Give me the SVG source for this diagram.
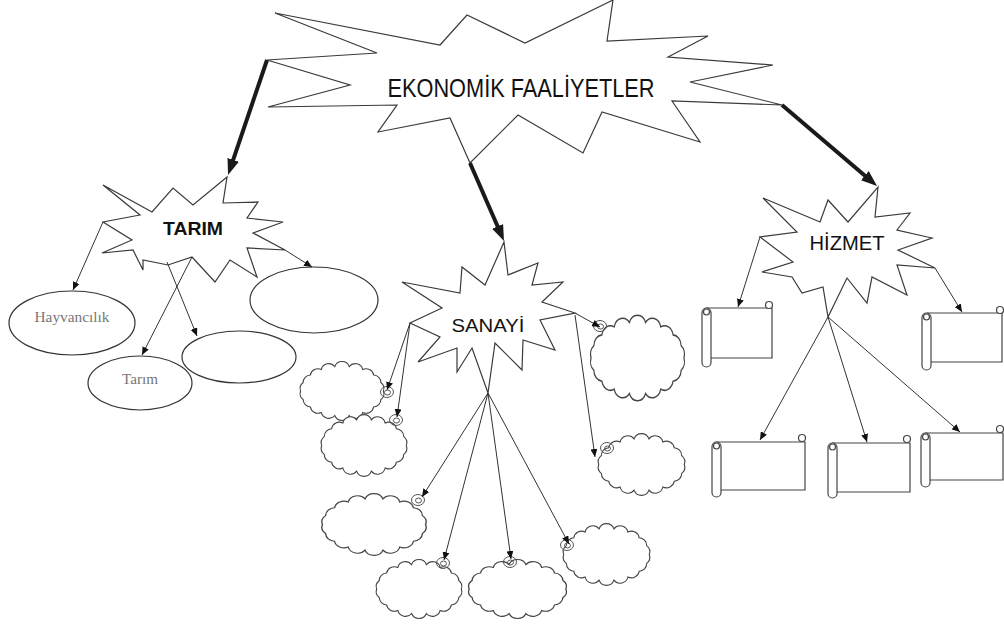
<svg xmlns="http://www.w3.org/2000/svg" xmlns:xlink="http://www.w3.org/1999/xlink" width="1004" height="628" viewBox="0 0 1004 628">
<style>
.burst{fill:#fff;stroke:#3a3a3a;stroke-width:1.2;stroke-linejoin:miter}
.ell{fill:#fff;stroke:#333;stroke-width:1.2}
.cloud{fill:#fff;stroke:#444;stroke-width:1.2;vector-effect:non-scaling-stroke}
.curl{fill:none;stroke:#555;stroke-width:1}
.scroll{fill:#fff;stroke:#444;stroke-width:1.2}
.thin{fill:none;stroke:#333;stroke-width:1;marker-end:url(#ah)}
.thick{fill:none;stroke:#1a1a1a;stroke-width:4;marker-end:url(#ahb)}
.lbl{font-family:"Liberation Sans","DejaVu Sans",sans-serif;fill:#111;text-anchor:middle}
.ser{font-family:"Liberation Serif","DejaVu Serif",serif;fill:#777;text-anchor:middle;font-size:15px}
</style>
<defs>
<marker id="ah" markerUnits="userSpaceOnUse" markerWidth="8" markerHeight="7" refX="8" refY="3.5" orient="auto"><path d="M0,0 L8,3.5 L0,7 z" fill="#111"/></marker>
<marker id="ahb" markerUnits="userSpaceOnUse" markerWidth="16" markerHeight="12" refX="4" refY="6" orient="auto"><path d="M0,0 L16,6 L0,12 z" fill="#1a1a1a"/></marker>
<path id="cl" d="M4,35 A8.5,8.5 0 0 1 6.8,25.4 A8.5,8.5 0 0 1 14.8,17 A8.5,8.5 0 0 1 27,10.8 A8.5,8.5 0 0 1 42,7.4 A8.5,8.5 0 0 1 58,7.4 A8.5,8.5 0 0 1 73,10.8 A8.5,8.5 0 0 1 85.2,17 A8.5,8.5 0 0 1 93.2,25.4 A8.5,8.5 0 0 1 96,35 A8.5,8.5 0 0 1 93.2,44.6 A8.5,8.5 0 0 1 85.2,53 A8.5,8.5 0 0 1 73,59.2 A8.5,8.5 0 0 1 58,62.6 A8.5,8.5 0 0 1 42,62.6 A8.5,8.5 0 0 1 27,59.2 A8.5,8.5 0 0 1 14.8,53 A8.5,8.5 0 0 1 6.8,44.6 A8.5,8.5 0 0 1 4,35 Z"/>
<g id="cu" class="curl"><ellipse cx="0" cy="0" rx="6.5" ry="5.5"/><ellipse cx="0.5" cy="0.5" rx="3" ry="2.5"/></g>
</defs>
<rect width="1004" height="628" fill="#fff"/>

<g id="ekonomik">
<polygon class="burst" points="275,13 440,45 467,15 525,43 613,0 607,41 708,36 668,57 773,65 690,82 782,105 672,101 700,142 602,112 583,153 518,115 470,163 450,118 378,132 397,105 268,107 350,85 267,60 377,53"/>
<text class="lbl" x="521" y="97" font-size="26" textLength="267" lengthAdjust="spacingAndGlyphs">EKONOMİK FAALİYETLER</text>
</g>

<g id="tarim">
<polygon class="burst" points="103,185 152,212 173,188 193,205 227,177 223,203 258,202 247,218 283,222 253,233 285,250 247,248 257,277 230,260 215,282 192,257 168,265 143,260 143,270 133,250 102,253 132,240 103,222 140,215"/>
<text class="lbl" x="193" y="235" font-size="18" font-weight="bold" textLength="60" lengthAdjust="spacingAndGlyphs">TARIM</text>
</g>
<g id="hayvancilik"><ellipse class="ell" cx="72" cy="323" rx="63" ry="32"/><text class="ser" x="72" y="322" textLength="75" lengthAdjust="spacingAndGlyphs">Hayvancılık</text></g>
<g id="tarim-alt"><ellipse class="ell" cx="140" cy="383" rx="52" ry="27"/><text class="ser" x="140" y="384" textLength="36" lengthAdjust="spacingAndGlyphs">Tarım</text></g>
<g id="tarim-bos1"><ellipse class="ell" cx="239" cy="357" rx="57" ry="26"/></g>
<g id="tarim-bos2"><ellipse class="ell" cx="314" cy="300" rx="64" ry="33"/></g>

<g id="sanayi">
<polygon class="burst" points="504,242 508,275 538,263 532,285 563,282 542,302 575,313 540,320 555,350 523,340 522,370 495,343 488,393 472,348 457,372 457,348 418,362 440,337 410,323 442,308 402,282 460,293 462,267 485,285"/>
<text class="lbl" x="488" y="332" font-size="19" textLength="73" lengthAdjust="spacingAndGlyphs">SANAYİ</text>
</g>
<g id="bulut1"><use href="#cl" class="cloud" transform="translate(297,360) scale(0.9,0.886)"/><use href="#cu" x="387" y="392"/></g>
<g id="bulut2"><use href="#cl" class="cloud" transform="translate(318,413) scale(0.92,0.929)"/><use href="#cu" x="396" y="420"/></g>
<g id="bulut3"><use href="#cl" class="cloud" transform="translate(587,313) scale(1.01,1.286)"/><use href="#cu" x="600" y="326"/></g>
<g id="bulut4"><use href="#cl" class="cloud" transform="translate(595,432) scale(0.93,0.929)"/><use href="#cu" x="607" y="448"/></g>
<g id="bulut5"><use href="#cl" class="cloud" transform="translate(318,492) scale(1.12,0.929)"/><use href="#cu" x="418" y="500"/></g>
<g id="bulut6"><use href="#cl" class="cloud" transform="translate(373,558) scale(0.92,0.886)"/><use href="#cu" x="443" y="563"/></g>
<g id="bulut7"><use href="#cl" class="cloud" transform="translate(465,558) scale(1.05,0.886)"/><use href="#cu" x="510" y="562"/></g>
<g id="bulut8"><use href="#cl" class="cloud" transform="translate(560,522) scale(0.93,0.929)"/><use href="#cu" x="567" y="545"/></g>

<g id="hizmet">
<polygon class="burst" points="878,187 875,217 910,213 897,230 932,238 898,250 935,268 897,265 907,295 872,277 867,303 847,278 828,317 823,287 802,293 792,277 762,272 793,262 760,237 797,232 763,198 820,222 828,200 848,222"/>
<text class="lbl" x="847" y="250" font-size="21" textLength="75" lengthAdjust="spacingAndGlyphs">HİZMET</text>
</g>
<g id="parsomen1" class="scroll"><path d="M706,308 H772 V358 H710"/><circle cx="769" cy="305" r="3.5"/><rect x="702" y="308" width="9" height="59" rx="4.5"/><circle cx="706.5" cy="312" r="3"/></g>
<g id="parsomen2" class="scroll"><path d="M927,313 H1002 V362 H931"/><circle cx="1000" cy="310" r="3.5"/><rect x="922" y="313" width="9" height="57" rx="4.5"/><circle cx="926.5" cy="317" r="3"/></g>
<g id="parsomen3" class="scroll"><path d="M716,442 H805 V490 H720"/><circle cx="802" cy="438" r="3.5"/><rect x="712" y="442" width="9" height="55" rx="4.5"/><circle cx="716.5" cy="446" r="3"/></g>
<g id="parsomen4" class="scroll"><path d="M832,443 H910 V492 H837"/><circle cx="907" cy="439" r="3.5"/><rect x="828" y="443" width="9" height="55" rx="4.5"/><circle cx="832.5" cy="447" r="3"/></g>
<g id="parsomen5" class="scroll"><path d="M925,433 H1003 V480 H929"/><circle cx="1000" cy="429" r="3.5"/><rect x="921" y="433" width="9" height="54" rx="4.5"/><circle cx="925.5" cy="437" r="3"/></g>

<g id="connectors">
<line class="thick" x1="267" y1="60" x2="231.9" y2="163.6"/>
<line class="thick" x1="470" y1="163" x2="499.2" y2="230"/>
<line class="thick" x1="782" y1="105" x2="867.9" y2="178.2"/>
<line class="thin" x1="103" y1="222" x2="73" y2="290"/>
<line class="thin" x1="285" y1="250" x2="312" y2="267"/>
<line class="thin" x1="192" y1="257" x2="142" y2="355"/>
<line class="thin" x1="167" y1="262" x2="197" y2="336"/>
<line class="thin" x1="410" y1="323" x2="387" y2="390"/>
<line class="thin" x1="410" y1="323" x2="397" y2="417"/>
<line class="thin" x1="575" y1="313" x2="600" y2="327"/>
<line class="thin" x1="575" y1="315" x2="595" y2="457"/>
<line class="thin" x1="488" y1="393" x2="422" y2="497"/>
<line class="thin" x1="488" y1="393" x2="444" y2="560"/>
<line class="thin" x1="488" y1="393" x2="511" y2="559"/>
<line class="thin" x1="488" y1="393" x2="569" y2="544"/>
<line class="thin" x1="760" y1="237" x2="738" y2="307"/>
<line class="thin" x1="935" y1="268" x2="962" y2="312"/>
<line class="thin" x1="828" y1="317" x2="760" y2="440"/>
<line class="thin" x1="828" y1="317" x2="867" y2="442"/>
<line class="thin" x1="828" y1="317" x2="960" y2="432"/>
</g>
</svg>
